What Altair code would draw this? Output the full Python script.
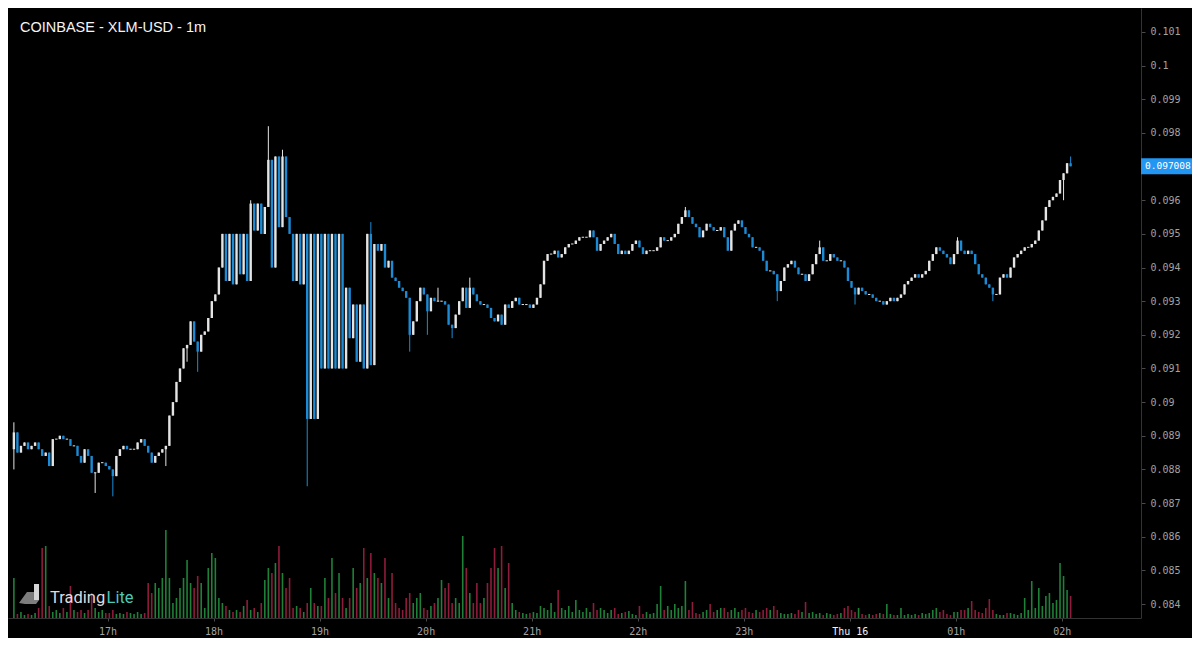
import altair as alt
import pandas as pd

# ---------------- data (2-minute candles) ----------------
first_open = 0.0886
close_16 = [0.0891, 0.0885, 0.0887, 0.0888, 0.0886, 0.0887, 0.0888, 0.0886, 0.0884, 0.0885,
            0.0881, 0.0889, 0.0889, 0.0890, 0.0889, 0.0889, 0.0887, 0.0887, 0.0884, 0.0882,
            0.0886, 0.0884, 0.0879, 0.0879, 0.0882, 0.0882, 0.0881]
close_17 = [0.0880, 0.0878, 0.0884, 0.0886, 0.0887, 0.0886, 0.0886, 0.0886, 0.0888, 0.0889,
            0.0887, 0.0885, 0.0882, 0.0884, 0.0885, 0.0886, 0.0887, 0.0896, 0.0900, 0.0906,
            0.0910, 0.0916, 0.0917, 0.0924, 0.0918, 0.0915, 0.0920, 0.0921, 0.0925, 0.0930]
close_18 = [0.0932, 0.0940, 0.0950, 0.0936, 0.0950, 0.0935, 0.0950, 0.0938, 0.0950, 0.0936,
            0.0959, 0.0951, 0.0959, 0.0950, 0.0958, 0.0972, 0.0940, 0.0973, 0.0952, 0.0973,
            0.0955, 0.0950, 0.0936, 0.0950, 0.0935, 0.0950, 0.0895, 0.0950, 0.0895, 0.0950]
close_19 = [0.0910, 0.0950, 0.0910, 0.0950, 0.0910, 0.0950, 0.0910, 0.0934, 0.0919, 0.0929,
            0.0912, 0.0929, 0.0910, 0.0950, 0.0911, 0.0947, 0.0945, 0.0947, 0.0940, 0.0942,
            0.0937, 0.0936, 0.0934, 0.0933, 0.0931, 0.0920, 0.0924, 0.0930, 0.0934, 0.0932]
close_20 = [0.0927, 0.0931, 0.0930, 0.0930, 0.0930, 0.0929, 0.0923, 0.0922, 0.0926, 0.0930,
            0.0934, 0.0928, 0.0934, 0.0932, 0.0930, 0.0929, 0.0929, 0.0928, 0.0925, 0.0924,
            0.0926, 0.0923, 0.0929, 0.0928, 0.0930, 0.0931, 0.0929, 0.0929, 0.0929, 0.0928]
close_21 = [0.0929, 0.0931, 0.0935, 0.0942, 0.0944, 0.0944, 0.0945, 0.0943, 0.0944, 0.0946,
            0.0947, 0.0947, 0.0948, 0.0949, 0.0949, 0.0949, 0.0951, 0.0949, 0.0945, 0.0947,
            0.0948, 0.0949, 0.0950, 0.0947, 0.0944, 0.0945, 0.0944, 0.0945, 0.0947, 0.0948]
close_22 = [0.0946, 0.0944, 0.0945, 0.0945, 0.0945, 0.0946, 0.0949, 0.0948, 0.0948, 0.0949,
            0.0950, 0.0953, 0.0955, 0.0957, 0.0955, 0.0953, 0.0952, 0.0949, 0.0951, 0.0953,
            0.0952, 0.0951, 0.0951, 0.0952, 0.0949, 0.0945, 0.0951, 0.0953, 0.0954, 0.0952]
close_23 = [0.0950, 0.0949, 0.0946, 0.0946, 0.0945, 0.0942, 0.0939, 0.0939, 0.0938, 0.0933,
            0.0936, 0.0940, 0.0941, 0.0942, 0.0940, 0.0938, 0.0938, 0.0936, 0.0938, 0.0941,
            0.0944, 0.0946, 0.0942, 0.0942, 0.0944, 0.0943, 0.0942, 0.0942, 0.0940, 0.0936]
close_00 = [0.0934, 0.0932, 0.0934, 0.0933, 0.0932, 0.0932, 0.0931, 0.0930, 0.0930, 0.0929,
            0.0930, 0.0931, 0.0930, 0.0931, 0.0932, 0.0935, 0.0936, 0.0937, 0.0938, 0.0937,
            0.0938, 0.0939, 0.0942, 0.0944, 0.0946, 0.0945, 0.0944, 0.0943, 0.0941, 0.0944]
close_01 = [0.0948, 0.0945, 0.0944, 0.0945, 0.0944, 0.0941, 0.0938, 0.0937, 0.0935, 0.0934,
            0.0932, 0.0932, 0.0937, 0.0938, 0.0937, 0.0940, 0.0943, 0.0944, 0.0945, 0.0946,
            0.0946, 0.0947, 0.0948, 0.0951, 0.0954, 0.0958, 0.0960, 0.0961, 0.0962, 0.0966]
close_02 = [0.0968, 0.0971, 0.097008]

# wick extremes (candle index -> price)
high_wicks = {0: 0.0894, 67: 0.0960, 72: 0.0982, 76: 0.0975, 101: 0.09535, 120: 0.0934,
              129: 0.0937, 190: 0.0958, 228: 0.0948, 267: 0.0949, 299: 0.0973}
low_wicks = {0: 0.0880, 23: 0.0873, 28: 0.0872, 43: 0.0881, 49: 0.0912, 52: 0.0909,
             83: 0.0875, 112: 0.0915, 117: 0.0920, 124: 0.0919, 216: 0.0930, 238: 0.0929,
             277: 0.0930, 297: 0.0960}

vol_16 = [40, 4, 6, 3, 4, 3, 5, 10, 70, 72, 12, 6, 8, 5, 10, 6, 32, 8, 6, 8, 5, 8, 25, 10, 6, 8, 5]
vol_17 = [5, 8, 4, 5, 4, 6, 5, 4, 6, 4, 5, 35, 25, 35, 30, 40, 88, 40, 15, 20,
          30, 40, 58, 35, 30, 42, 35, 10, 50, 65]
vol_18 = [60, 20, 15, 12, 8, 6, 8, 6, 12, 18, 8, 10, 6, 15, 38, 50, 45, 55, 72, 45,
          30, 40, 10, 12, 10, 6, 15, 30, 15, 12]
vol_19 = [12, 40, 20, 60, 25, 45, 20, 10, 20, 50, 30, 35, 70, 40, 65, 45, 40, 35, 60, 20,
          45, 15, 10, 8, 20, 25, 15, 20, 25, 10]
vol_20 = [8, 12, 15, 20, 38, 30, 35, 15, 20, 15, 82, 50, 25, 15, 35, 15, 20, 35, 50, 70,
          50, 72, 30, 55, 15, 8, 6, 5, 4, 5]
vol_21 = [6, 5, 12, 10, 8, 15, 6, 28, 10, 8, 12, 6, 18, 8, 6, 10, 6, 15, 8, 10,
          8, 5, 8, 10, 4, 5, 6, 7, 4, 3]
vol_22 = [12, 4, 6, 4, 5, 14, 32, 8, 12, 8, 14, 10, 12, 37, 8, 16, 5, 4, 6, 8,
          14, 6, 8, 10, 10, 6, 8, 10, 6, 8]
vol_23 = [10, 6, 5, 8, 6, 8, 10, 8, 12, 8, 5, 4, 4, 5, 4, 8, 6, 16, 5, 6,
          4, 5, 3, 5, 4, 3, 4, 5, 10, 12]
vol_00 = [8, 6, 10, 4, 3, 4, 3, 4, 5, 4, 14, 4, 3, 3, 10, 3, 4, 3, 4, 3,
          5, 4, 5, 8, 10, 6, 8, 4, 3, 6]
vol_01 = [6, 8, 8, 10, 17, 8, 6, 5, 10, 19, 8, 4, 3, 3, 5, 5, 4, 3, 5, 20,
          8, 37, 10, 30, 12, 22, 25, 15, 18, 55]
vol_02 = [42, 28, 22]

price_ticks = [0.084, 0.085, 0.086, 0.087, 0.088, 0.089, 0.090, 0.091, 0.092, 0.093,
               0.094, 0.095, 0.096, 0.098, 0.099, 0.100, 0.101]
hour_ticks = [(15, 17), (15, 18), (15, 19), (15, 20), (15, 21), (15, 22), (15, 23),
              (16, 0), (16, 1), (16, 2)]
title_text = "COINBASE - XLM-USD - 1m"
logo_left = "Trading"
logo_right = "Lite"

# ---------------- table ----------------
closes = (close_16 + close_17 + close_18 + close_19 + close_20 + close_21 + close_22
          + close_23 + close_00 + close_01 + close_02)
volumes = (vol_16 + vol_17 + vol_18 + vol_19 + vol_20 + vol_21 + vol_22 + vol_23
           + vol_00 + vol_01 + vol_02)
opens = [first_open] + closes[:-1]
start = pd.Timestamp("2023-02-15 16:07:00")
rows = []
for k, (o, c, v) in enumerate(zip(opens, closes, volumes)):
    hi = max(o, c, high_wicks.get(k, 0.0))
    lo = min(o, c, low_wicks.get(k, 1.0))
    b_lo, b_hi = min(o, c), max(o, c)
    if b_hi - b_lo < 0.00003:
        mid = (b_hi + b_lo) / 2
        b_lo, b_hi = mid - 0.000015, mid + 0.000015
    t = (start + pd.Timedelta(minutes=2 * k)).strftime("%Y-%m-%dT%H:%M:%SZ")
    rows.append(dict(t=t, o=o, c=c, hi=hi, lo=lo, b_lo=b_lo, b_hi=b_hi, v=v))
df = pd.DataFrame(rows)
last_price = closes[-1]

# ---------------- styles ----------------
W, H = 1133, 610
P_MIN, P_MAX = 0.083584, 0.101713
UP, DOWN = "#e4e4e4", "#1b8bd5"
VUP, VDOWN = "#1f8038", "#8e1c3b"
MONO = "DejaVu Sans Mono"

x_scale = alt.Scale(type="utc",
                    domain=[alt.DateTime(year=2023, month=2, date=15, hours=16, minutes=6, seconds=30, utc=True),
                            alt.DateTime(year=2023, month=2, date=16, hours=2, minutes=42, utc=True)])
x_axis = alt.Axis(
    values=[alt.DateTime(year=2023, month=2, date=d, hours=h, utc=True) for d, h in hour_ticks],
    labelExpr="utchours(datum.value) == 0 ? 'Thu ' + utcFormat(datum.value, '%d') : utcFormat(datum.value, '%H') + 'h'",
    title=None, grid=False, domainColor="#333333", tickColor="#4a4a4a", tickSize=3,
    labelColor={"condition": {"test": "utchours(datum.value) == 0", "value": "#f2f2f2"}, "value": "#a2a2a2"},
    labelFont=MONO, labelFontSize=10, labelPadding=5, labelFlush=False)
p_scale = alt.Scale(domain=[P_MIN, P_MAX], nice=False, zero=False)
y_axis = alt.Axis(orient="right", values=price_ticks, labelExpr="format(datum.value, '.3~f')",
                  title=None, grid=False, domainColor="#333333", tickColor="#4a4a4a", tickSize=4,
                  labelColor="#a2a2a2", labelFont=MONO, labelFontSize=10, labelPadding=5,
                  labelOverlap=False)

candle_color = alt.condition("datum.c >= datum.o", alt.value(UP), alt.value(DOWN))
vol_color = alt.condition("datum.c >= datum.o", alt.value(VUP), alt.value(VDOWN))
X = alt.X("t:T", scale=x_scale, axis=x_axis)


def Y(field):
    return alt.Y(field, scale=p_scale, axis=y_axis)


one = pd.DataFrame({"k": [0]})

# volume drawn in the bottom strip: 1 volume unit = 1 px of height above the price-scale floor
vol = alt.Chart(df).transform_calculate(
    vb=f"{P_MIN}",
    vt=f"{P_MIN} + datum.v * {(P_MAX - P_MIN) / H}").mark_bar(width=1.6).encode(
    x=X, y=Y("vt:Q"), y2="vb:Q", color=vol_color)

wick = alt.Chart(df).mark_rule(strokeWidth=1).encode(
    x=X, y=Y("lo:Q"), y2="hi:Q", color=candle_color)

body = alt.Chart(df).mark_bar(width=2.4).encode(
    x=X, y=Y("b_lo:Q"), y2="b_hi:Q", color=candle_color)

lp = pd.DataFrame({"p": [last_price], "label": [f"{last_price:.6f}"]})
last_box = alt.Chart(lp).mark_tick(orient="horizontal", size=51, thickness=16, color="#2196f3", opacity=1).encode(
    x=alt.value(W + 25.5), y=Y("p:Q"))
last_txt = alt.Chart(lp).mark_text(align="left", baseline="middle", font=MONO, fontSize=9.5, color="#ffffff").encode(
    x=alt.value(W + 4), y=Y("p:Q"), text="label:N")

title = alt.Chart(pd.DataFrame({"s": [title_text]})).mark_text(
    align="left", baseline="alphabetic", font="Liberation Sans", fontSize=14.5, color="#f4f4f4").encode(
    x=alt.value(12), y=alt.value(24), text="s:N")

logo1 = alt.Chart(pd.DataFrame({"s": [logo_left]})).mark_text(
    align="left", baseline="alphabetic", font="Roboto", fontSize=16.5, color="#dcdcdc").encode(
    x=alt.value(42), y=alt.value(595), text="s:N")
logo2 = alt.Chart(pd.DataFrame({"s": [logo_right]})).mark_text(
    align="left", baseline="alphabetic", font="Roboto", fontSize=16.5, color="#4cc9b9").encode(
    x=alt.value(98.5), y=alt.value(595), text="s:N")
icon_a = alt.Chart(one).mark_point(
    shape="M-0.96,0.69 L-0.35,-0.15 L0.19,-0.15 L0.19,0.46 L0.58,0.46 L0.35,0.77 L-0.5,0.77 Z",
    filled=True, size=676, opacity=1, strokeWidth=0, color="#7d7d7d").encode(
    x=alt.value(23.5), y=alt.value(586))
icon_b = alt.Chart(one).mark_point(
    shape="M0.19,-0.77 L0.58,-0.77 L0.58,0.46 L0.19,0.46 Z",
    filled=True, size=676, opacity=1, strokeWidth=0, color="#d6d6d6").encode(
    x=alt.value(23.5), y=alt.value(586))

chart = alt.layer(vol, wick, body, last_box, last_txt, title, logo1, logo2, icon_a, icon_b).properties(
    width=W, height=H,
    padding={"left": 0, "top": 0, "right": 51, "bottom": 20},
    autosize=alt.AutoSizeParams(type="none"),
).configure(background="#000000").configure_view(stroke="transparent")

chart.save("out.html", embed_options={"renderer": "svg", "actions": False})
